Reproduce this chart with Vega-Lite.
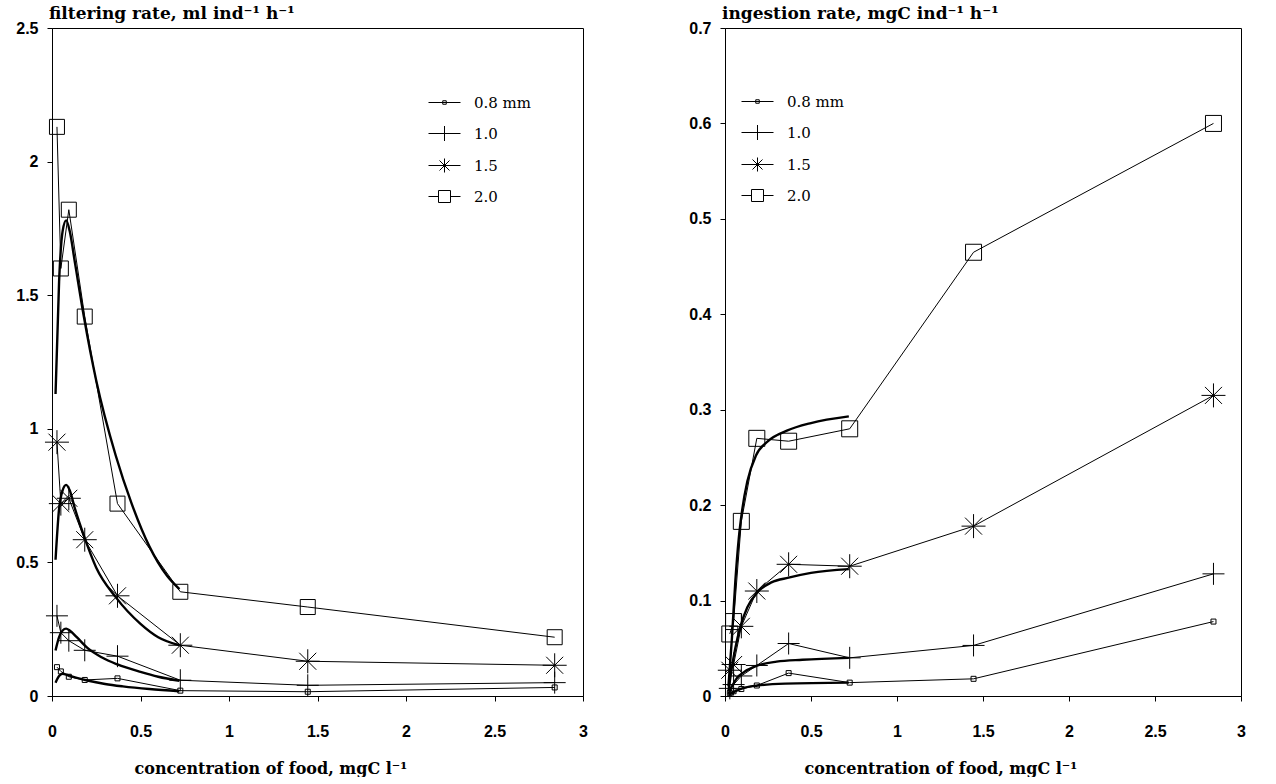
{
  "$schema": "https://vega.github.io/schema/vega-lite/v6.json",
  "background": "white",
  "padding": {"left": 15, "top": 4, "right": 5, "bottom": 0},
  "spacing": 100,
  "config": {
    "view": {"stroke": "black", "strokeWidth": 1},
    "axis": {
      "grid": false, "domainColor": "black", "tickColor": "black", "tickSize": 5, "format": "~g",
      "labelFont": "Liberation Sans", "labelFontWeight": "bold", "labelFontSize": 16, "labelColor": "black",
      "titleFont": "DejaVu Serif", "titleFontWeight": "bold", "titleFontSize": 16, "titleColor": "black"
    },
    "legend": {"labelFont": "DejaVu Serif", "labelFontSize": 15, "labelColor": "black", "symbolSize": 100, "symbolStrokeWidth": 1, "symbolStrokeColor": "black", "symbolFillColor": "transparent", "rowPadding": 13, "labelOffset": 22, "padding": 0, "title": null},
    "title": {"font": "DejaVu Serif", "fontSize": 17, "fontWeight": "bold", "color": "black", "anchor": "start", "frame": "group"}
  },
  "datasets": {
    "filt": [
      {"c": 0.028, "v": 0.108, "s": "0.8 mm"}, {"c": 0.05, "v": 0.092, "s": "0.8 mm"}, {"c": 0.095, "v": 0.072, "s": "0.8 mm"}, {"c": 0.185, "v": 0.06, "s": "0.8 mm"}, {"c": 0.37, "v": 0.066, "s": "0.8 mm"}, {"c": 0.725, "v": 0.02, "s": "0.8 mm"}, {"c": 1.445, "v": 0.016, "s": "0.8 mm"}, {"c": 2.84, "v": 0.032, "s": "0.8 mm"},
      {"c": 0.028, "v": 0.30, "s": "1.0"}, {"c": 0.05, "v": 0.237, "s": "1.0"}, {"c": 0.095, "v": 0.207, "s": "1.0"}, {"c": 0.185, "v": 0.171, "s": "1.0"}, {"c": 0.37, "v": 0.149, "s": "1.0"}, {"c": 0.725, "v": 0.059, "s": "1.0"}, {"c": 1.445, "v": 0.04, "s": "1.0"}, {"c": 2.84, "v": 0.05, "s": "1.0"},
      {"c": 0.028, "v": 0.95, "s": "1.5"}, {"c": 0.05, "v": 0.72, "s": "1.5"}, {"c": 0.095, "v": 0.74, "s": "1.5"}, {"c": 0.185, "v": 0.585, "s": "1.5"}, {"c": 0.37, "v": 0.375, "s": "1.5"}, {"c": 0.725, "v": 0.19, "s": "1.5"}, {"c": 1.445, "v": 0.13, "s": "1.5"}, {"c": 2.84, "v": 0.115, "s": "1.5"},
      {"c": 0.028, "v": 2.13, "s": "2.0"}, {"c": 0.05, "v": 1.6, "s": "2.0"}, {"c": 0.095, "v": 1.82, "s": "2.0"}, {"c": 0.185, "v": 1.42, "s": "2.0"}, {"c": 0.37, "v": 0.72, "s": "2.0"}, {"c": 0.725, "v": 0.39, "s": "2.0"}, {"c": 1.445, "v": 0.333, "s": "2.0"}, {"c": 2.84, "v": 0.22, "s": "2.0"}
    ],
    "filtfit": [
      {"c": 0.02, "v": 0.05, "s": "0.8"}, {"c": 0.04, "v": 0.075, "s": "0.8"}, {"c": 0.06, "v": 0.083, "s": "0.8"}, {"c": 0.09, "v": 0.078, "s": "0.8"}, {"c": 0.14, "v": 0.068, "s": "0.8"}, {"c": 0.2, "v": 0.058, "s": "0.8"}, {"c": 0.3, "v": 0.045, "s": "0.8"}, {"c": 0.4, "v": 0.036, "s": "0.8"}, {"c": 0.55, "v": 0.026, "s": "0.8"}, {"c": 0.72, "v": 0.018, "s": "0.8"},
      {"c": 0.02, "v": 0.17, "s": "1.0"}, {"c": 0.04, "v": 0.22, "s": "1.0"}, {"c": 0.06, "v": 0.245, "s": "1.0"}, {"c": 0.08, "v": 0.252, "s": "1.0"}, {"c": 0.1, "v": 0.245, "s": "1.0"}, {"c": 0.14, "v": 0.22, "s": "1.0"}, {"c": 0.2, "v": 0.18, "s": "1.0"}, {"c": 0.28, "v": 0.145, "s": "1.0"}, {"c": 0.37, "v": 0.118, "s": "1.0"}, {"c": 0.5, "v": 0.09, "s": "1.0"}, {"c": 0.6, "v": 0.072, "s": "1.0"}, {"c": 0.72, "v": 0.057, "s": "1.0"},
      {"c": 0.02, "v": 0.51, "s": "1.5"}, {"c": 0.04, "v": 0.7, "s": "1.5"}, {"c": 0.06, "v": 0.77, "s": "1.5"}, {"c": 0.08, "v": 0.79, "s": "1.5"}, {"c": 0.1, "v": 0.77, "s": "1.5"}, {"c": 0.13, "v": 0.7, "s": "1.5"}, {"c": 0.18, "v": 0.6, "s": "1.5"}, {"c": 0.25, "v": 0.48, "s": "1.5"}, {"c": 0.36, "v": 0.37, "s": "1.5"}, {"c": 0.5, "v": 0.27, "s": "1.5"}, {"c": 0.6, "v": 0.22, "s": "1.5"}, {"c": 0.72, "v": 0.19, "s": "1.5"},
      {"c": 0.02, "v": 1.13, "s": "2.0"}, {"c": 0.04, "v": 1.55, "s": "2.0"}, {"c": 0.06, "v": 1.74, "s": "2.0"}, {"c": 0.08, "v": 1.78, "s": "2.0"}, {"c": 0.1, "v": 1.74, "s": "2.0"}, {"c": 0.13, "v": 1.62, "s": "2.0"}, {"c": 0.18, "v": 1.42, "s": "2.0"}, {"c": 0.25, "v": 1.18, "s": "2.0"}, {"c": 0.36, "v": 0.9, "s": "2.0"}, {"c": 0.45, "v": 0.72, "s": "2.0"}, {"c": 0.55, "v": 0.56, "s": "2.0"}, {"c": 0.65, "v": 0.45, "s": "2.0"}, {"c": 0.72, "v": 0.4, "s": "2.0"}
    ],
    "ing": [
      {"c": 0.028, "v": 0.003, "s": "0.8 mm"}, {"c": 0.05, "v": 0.005, "s": "0.8 mm"}, {"c": 0.095, "v": 0.0073, "s": "0.8 mm"}, {"c": 0.185, "v": 0.011, "s": "0.8 mm"}, {"c": 0.37, "v": 0.024, "s": "0.8 mm"}, {"c": 0.725, "v": 0.014, "s": "0.8 mm"}, {"c": 1.445, "v": 0.018, "s": "0.8 mm"}, {"c": 2.84, "v": 0.078, "s": "0.8 mm"},
      {"c": 0.028, "v": 0.008, "s": "1.0"}, {"c": 0.05, "v": 0.012, "s": "1.0"}, {"c": 0.095, "v": 0.021, "s": "1.0"}, {"c": 0.185, "v": 0.032, "s": "1.0"}, {"c": 0.37, "v": 0.055, "s": "1.0"}, {"c": 0.725, "v": 0.04, "s": "1.0"}, {"c": 1.445, "v": 0.053, "s": "1.0"}, {"c": 2.84, "v": 0.128, "s": "1.0"},
      {"c": 0.028, "v": 0.027, "s": "1.5"}, {"c": 0.05, "v": 0.033, "s": "1.5"}, {"c": 0.095, "v": 0.073, "s": "1.5"}, {"c": 0.185, "v": 0.11, "s": "1.5"}, {"c": 0.37, "v": 0.138, "s": "1.5"}, {"c": 0.725, "v": 0.136, "s": "1.5"}, {"c": 1.445, "v": 0.178, "s": "1.5"}, {"c": 2.84, "v": 0.315, "s": "1.5"},
      {"c": 0.028, "v": 0.065, "s": "2.0"}, {"c": 0.05, "v": 0.078, "s": "2.0"}, {"c": 0.095, "v": 0.183, "s": "2.0"}, {"c": 0.185, "v": 0.27, "s": "2.0"}, {"c": 0.37, "v": 0.267, "s": "2.0"}, {"c": 0.725, "v": 0.28, "s": "2.0"}, {"c": 1.445, "v": 0.465, "s": "2.0"}, {"c": 2.84, "v": 0.6, "s": "2.0"}
    ],
    "ingfit": [
      {"c": 0.02, "v": 0.001, "s": "0.8"}, {"c": 0.05, "v": 0.004, "s": "0.8"}, {"c": 0.1, "v": 0.008, "s": "0.8"}, {"c": 0.19, "v": 0.011, "s": "0.8"}, {"c": 0.35, "v": 0.013, "s": "0.8"}, {"c": 0.72, "v": 0.014, "s": "0.8"},
      {"c": 0.02, "v": 0.002, "s": "1.0"}, {"c": 0.04, "v": 0.01, "s": "1.0"}, {"c": 0.07, "v": 0.019, "s": "1.0"}, {"c": 0.11, "v": 0.025, "s": "1.0"}, {"c": 0.19, "v": 0.032, "s": "1.0"}, {"c": 0.3, "v": 0.036, "s": "1.0"}, {"c": 0.45, "v": 0.038, "s": "1.0"}, {"c": 0.72, "v": 0.04, "s": "1.0"},
      {"c": 0.02, "v": 0.005, "s": "1.5"}, {"c": 0.04, "v": 0.03, "s": "1.5"}, {"c": 0.06, "v": 0.05, "s": "1.5"}, {"c": 0.09, "v": 0.073, "s": "1.5"}, {"c": 0.13, "v": 0.093, "s": "1.5"}, {"c": 0.19, "v": 0.109, "s": "1.5"}, {"c": 0.27, "v": 0.119, "s": "1.5"}, {"c": 0.37, "v": 0.124, "s": "1.5"}, {"c": 0.5, "v": 0.129, "s": "1.5"}, {"c": 0.72, "v": 0.133, "s": "1.5"},
      {"c": 0.02, "v": 0.01, "s": "2.0"}, {"c": 0.04, "v": 0.06, "s": "2.0"}, {"c": 0.06, "v": 0.12, "s": "2.0"}, {"c": 0.08, "v": 0.165, "s": "2.0"}, {"c": 0.1, "v": 0.195, "s": "2.0"}, {"c": 0.13, "v": 0.225, "s": "2.0"}, {"c": 0.18, "v": 0.252, "s": "2.0"}, {"c": 0.25, "v": 0.267, "s": "2.0"}, {"c": 0.36, "v": 0.278, "s": "2.0"}, {"c": 0.5, "v": 0.286, "s": "2.0"}, {"c": 0.72, "v": 0.293, "s": "2.0"}
    ]
  },
  "resolve": {"scale": {"shape": "independent"}, "legend": {"shape": "independent"}},
  "hconcat": [
    {
      "width": 531, "height": 668,
      "title": {"text": "filtering rate, ml ind⁻¹ h⁻¹", "offset": -3, "dx": -3},
      "resolve": {"scale": {"shape": "independent"}, "legend": {"shape": "independent"}},
      "encoding": {
        "x": {"field": "c", "type": "quantitative", "scale": {"domain": [0, 3], "nice": false}, "axis": {"values": [0, 0.5, 1, 1.5, 2, 2.5, 3], "labelPadding": 22, "title": "concentration of food, mgC l⁻¹", "titleAlign": "left", "titleAnchor": "start", "titleX": 82, "titleY": 77, "titleBaseline": "alphabetic", "labelFlush": false}},
        "y": {"field": "v", "type": "quantitative", "scale": {"domain": [0, 2.5], "nice": false}, "axis": {"values": [0, 0.5, 1, 1.5, 2, 2.5], "labelPadding": 9, "title": null, "labelFlush": false}}
      },
      "layer": [
        {"data": {"name": "filt"}, "mark": {"type": "line", "stroke": "black", "strokeWidth": 1}, "encoding": {"detail": {"field": "s"}}},
        {"data": {"name": "filtfit"}, "mark": {"type": "line", "stroke": "black", "strokeWidth": 2.4, "interpolate": "monotone"}, "encoding": {"detail": {"field": "s"}}},
        {"data": {"name": "filt"}, "mark": {"type": "point", "filled": false, "stroke": "black", "strokeWidth": 1, "size": 100, "opacity": 1},
          "encoding": {"shape": {"field": "s", "type": "nominal", "legend": null,
            "scale": {"domain": ["0.8 mm", "1.0", "1.5", "2.0"], "range": ["M-0.5,-0.5H0.5V0.5H-0.5Z", "M-2.2,0H2.2M0,-2.2V2.2", "M-2.4,0H2.4M0,-2.4V2.4M-1.7,-1.7L1.7,1.7M-1.7,1.7L1.7,-1.7", "M-1.5,-1.5H1.5V1.5H-1.5Z"]}}}},
        {"data": {"name": "filt"}, "transform": [{"filter": "false"}], "mark": {"type": "point", "filled": false, "stroke": "black", "strokeWidth": 1, "size": 100, "opacity": 1},
          "encoding": {"shape": {"field": "s", "type": "nominal",
            "scale": {"domain": ["0.8 mm", "1.0", "1.5", "2.0"], "range": ["M-3.2,0H3.2M-0.35,-0.35H0.35V0.35H-0.35Z", "M-3.2,0H3.2M0,-1.5V1.5", "M-3.2,0H3.2M0,-1.4V1.4M-1,-1L1,1M-1,1L1,-1", "M-3.2,0H-1.2M1.2,0H3.2M-1.2,-1.2H1.2V1.2H-1.2Z"]},
            "legend": {"orient": "none", "legendX": 385, "legendY": 67}}}}
      ]
    },
    {
      "width": 516, "height": 668,
      "title": {"text": "ingestion rate, mgC ind⁻¹ h⁻¹", "offset": -3, "dx": -3},
      "resolve": {"scale": {"shape": "independent"}, "legend": {"shape": "independent"}},
      "encoding": {
        "x": {"field": "c", "type": "quantitative", "scale": {"domain": [0, 3], "nice": false}, "axis": {"values": [0, 0.5, 1, 1.5, 2, 2.5, 3], "labelPadding": 22, "title": "concentration of food, mgC l⁻¹", "titleAlign": "left", "titleAnchor": "start", "titleX": 79, "titleY": 77, "titleBaseline": "alphabetic", "labelFlush": false}},
        "y": {"field": "v", "type": "quantitative", "scale": {"domain": [0, 0.7], "nice": false}, "axis": {"values": [0, 0.1, 0.2, 0.3, 0.4, 0.5, 0.6, 0.7], "labelPadding": 9, "title": null, "labelFlush": false}}
      },
      "layer": [
        {"data": {"name": "ing"}, "mark": {"type": "line", "stroke": "black", "strokeWidth": 1}, "encoding": {"detail": {"field": "s"}}},
        {"data": {"name": "ingfit"}, "mark": {"type": "line", "stroke": "black", "strokeWidth": 2.4, "interpolate": "monotone"}, "encoding": {"detail": {"field": "s"}}},
        {"data": {"name": "ing"}, "mark": {"type": "point", "filled": false, "stroke": "black", "strokeWidth": 1, "size": 100, "opacity": 1},
          "encoding": {"shape": {"field": "s", "type": "nominal", "legend": null,
            "scale": {"domain": ["0.8 mm", "1.0", "1.5", "2.0"], "range": ["M-0.5,-0.5H0.5V0.5H-0.5Z", "M-2.2,0H2.2M0,-2.2V2.2", "M-2.4,0H2.4M0,-2.4V2.4M-1.7,-1.7L1.7,1.7M-1.7,1.7L1.7,-1.7", "M-1.6,-1.6H1.6V1.6H-1.6Z"]}}}},
        {"data": {"name": "ing"}, "transform": [{"filter": "false"}], "mark": {"type": "point", "filled": false, "stroke": "black", "strokeWidth": 1, "size": 100, "opacity": 1},
          "encoding": {"shape": {"field": "s", "type": "nominal",
            "scale": {"domain": ["0.8 mm", "1.0", "1.5", "2.0"], "range": ["M-3.2,0H3.2M-0.35,-0.35H0.35V0.35H-0.35Z", "M-3.2,0H3.2M0,-1.5V1.5", "M-3.2,0H3.2M0,-1.4V1.4M-1,-1L1,1M-1,1L1,-1", "M-3.2,0H-1.2M1.2,0H3.2M-1.2,-1.2H1.2V1.2H-1.2Z"]},
            "legend": {"orient": "none", "legendX": 25, "legendY": 66}}}}
      ]
    }
  ]
}
